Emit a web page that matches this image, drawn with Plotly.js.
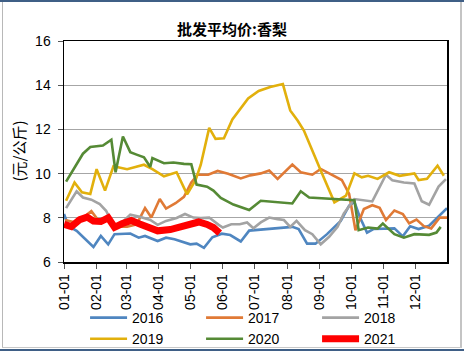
<!DOCTYPE html>
<html><head><meta charset="utf-8">
<script src="https://cdn.plot.ly/plotly-3.0.1.min.js"></script>
<style>
html,body{margin:0;padding:0;background:#fff;}
#wrap{position:relative;width:464px;height:351px;overflow:hidden;}
#chart{position:absolute;left:0;top:0;width:464px;height:351px;}
.deco{position:absolute;pointer-events:none;}
</style></head>
<body>
<div id="wrap">
<div id="chart"></div>
<div class="deco" style="left:0;top:0;width:464px;height:2px;background:#3f5f86;"></div>
<div class="deco" style="left:2px;top:2px;width:1px;height:346px;background:#b8b8b8;"></div>
<div class="deco" style="left:460px;top:2px;width:2px;height:346px;background:#c4c4c4;"></div>
<div class="deco" style="left:2px;top:347px;width:460px;height:1px;background:#c8c8c8;"></div>
<div class="deco" style="left:0;top:349px;width:464px;height:2px;background:#3f5f86;"></div>
</div>
<script>
const YEAR = '2021';
const seriesNames = ['2016','2017','2018','2019','2020','2021'];

const dates16 = ['01-01','01-05','01-13','01-21','01-29','02-05','02-12','02-18','02-25','03-05','03-13','03-19','03-31','04-08','04-16','04-24','05-01','05-07','05-14','05-22','05-31','06-08','06-18','06-26','08-06','08-12','08-20','08-28','09-08','09-21','09-29','10-04','10-09','10-16','10-22','11-11','11-19','11-26','12-04','12-14','12-31'];
const vals16 = [8.17,7.64,7.41,7.03,6.68,7.18,6.80,7.26,7.26,7.29,7.10,7.18,6.95,7.10,7.03,6.92,6.80,6.83,6.64,7.12,7.28,7.22,6.93,7.42,7.59,7.49,6.83,6.83,7.26,7.86,8.55,8.72,8.05,7.33,7.49,7.52,7.16,7.62,7.49,7.64,8.43];

const dates17 = ['01-02','01-11','01-19','01-27','02-04','02-13','02-21','03-02','03-11','03-19','03-25','04-02','04-08','04-17','04-25','05-02','05-08','05-18','05-27','06-06','06-18','06-27','07-07','07-15','07-23','08-06','08-14','08-25','09-02','09-11','09-22','09-29','10-05','10-13','10-21','10-28','11-03','11-11','11-19','11-25','12-02','12-09','12-16','12-24','12-31'];
const vals17 = [7.9,7.8,8.0,8.3,7.8,7.9,7.6,7.6,7.7,8.44,8.01,8.85,8.42,8.66,8.95,9.6,9.95,9.95,10.12,9.99,9.78,9.92,10.01,10.14,9.76,10.41,10.06,9.95,10.21,9.98,9.71,9.08,7.44,8.4,8.57,8.45,7.9,8.33,8.17,7.75,7.92,7.62,7.52,8.01,8.01];

const dates18 = ['01-03','01-13','01-19','01-27','02-04','02-10','02-18','02-25','03-05','03-14','03-24','03-31','04-08','04-18','04-26','05-04','05-11','05-19','05-28','06-01','06-09','06-17','06-24','06-30','07-07','07-15','07-23','07-29','08-04','08-10','08-18','08-25','09-02','09-10','09-18','09-24','10-04','10-21','11-03','11-09','11-20','11-30','12-07','12-14','12-23','12-30'];
const vals18 = [8.44,9.2,8.92,8.82,8.62,8.32,7.56,7.79,8.14,8.05,7.9,7.68,7.86,7.99,8.17,8.01,7.99,8.01,7.68,7.56,7.71,7.71,7.79,7.53,7.79,8.01,7.94,7.9,7.59,7.86,7.44,7.26,6.8,7.14,7.59,8.2,8.85,8.74,9.95,9.7,9.6,9.55,8.75,8.59,9.41,9.75];

const dates19 = ['01-03','01-11','01-18','01-26','02-01','02-09','02-17','03-02','03-18','03-26','04-06','04-18','04-28','05-06','05-11','05-19','05-25','06-02','06-10','06-18','06-25','07-05','07-16','07-28','08-04','08-11','08-17','09-02','09-15','09-26','10-04','10-11','10-17','10-26','11-06','11-16','11-30','12-04','12-12','12-22','12-28'];
const vals19 = [8.77,9.6,9.15,9.08,10.2,9.23,10.33,10.2,10.4,10.2,9.88,10.06,9.06,9.7,10.4,12.07,11.57,11.6,12.45,12.95,13.4,13.74,13.92,14.05,12.86,12.4,11.95,10.14,8.7,9.0,10.01,9.83,9.9,9.76,10.06,9.9,10.01,9.71,9.76,10.36,9.9];

const dates20 = ['01-03','01-19','01-26','02-04','02-07','02-15','02-19','02-26','03-05','03-11','03-18','03-24','03-26','04-06','04-15','04-25','05-02','05-07','05-17','05-23','05-30','06-11','06-26','07-07','08-06','08-14','08-22','10-04','10-08','10-17','10-26','10-31','11-11','11-20','11-30','12-14','12-21','12-25'];
const vals20 = [9.64,10.9,11.2,11.27,11.27,11.53,10.06,11.68,10.97,10.86,10.74,10.3,10.7,10.47,10.5,10.44,10.42,9.5,9.41,9.23,8.9,8.6,8.35,8.77,8.65,9.2,8.92,8.8,7.44,7.56,7.51,7.74,7.26,7.1,7.26,7.23,7.33,7.59];

const dates21 = ['01-01','01-08','01-16','01-23','01-29','02-05','02-12','02-18','02-25','03-06','03-14','03-21','03-31','04-12','04-26','05-09','05-17','05-23','05-29'];
const vals21 = [7.7,7.6,7.92,8.03,7.85,7.83,8.0,7.57,7.73,7.88,7.72,7.6,7.41,7.47,7.64,7.81,7.7,7.56,7.31];

const allDates = [dates16,dates17,dates18,dates19,dates20,dates21];
const allVals = [vals16,vals17,vals18,vals19,vals20,vals21];
const colors = ['#4f86c0','#e07a36','#a3a3a3','#e2b00c','#558a35','#ff0000'];
const widths = [2.6,2.6,2.6,2.6,2.6,7];

const traces = seriesNames.map((n,i)=>({
  type:'scatter', mode:'lines', name:n,
  x: allDates[i].map(d=>YEAR+'-'+d),
  y: allVals[i],
  line:{color:colors[i], width:widths[i]},
  hoverinfo:'skip'
}));

const FONT = 'Liberation Sans, Arial, sans-serif';
const layout = {
  width:464, height:351,
  margin:{l:64, r:17, t:41, b:89, autoexpand:false},
  paper_bgcolor:'rgba(0,0,0,0)', plot_bgcolor:'#fff',
  font:{family:FONT, size:14, color:'#000'},
  title:{text:'<b>批发平均价:香梨</b>', font:{family:'Noto Sans CJK SC', size:15, color:'#000'},
    x:0.5, xref:'container', xanchor:'center', y:1-30/351, yref:'container', yanchor:'middle'},
  xaxis:{type:'date', range:[YEAR+'-01-01', YEAR+'-12-31'], tick0:YEAR+'-01-01', dtick:'M1',
    tickformat:'%m-%d', tickangle:-90, ticks:'outside', ticklen:5, tickcolor:'#555',
    showgrid:false, showline:true, mirror:true, linecolor:'#000', linewidth:1.5, automargin:false,
    tickfont:{family:FONT, size:14}, zeroline:false, fixedrange:true},
  yaxis:{range:[6,16], dtick:2, tick0:6, ticks:'outside', ticklen:5, tickcolor:'#555',
    showgrid:true, gridcolor:'#a6a6a6', gridwidth:1, automargin:false,
    showline:true, mirror:true, linecolor:'#000', linewidth:1.5,
    tickfont:{family:FONT, size:14}, ticklabelstandoff:4, zeroline:false, fixedrange:true},
  showlegend:true,
  legend:{orientation:'h', x:0.055, xanchor:'left', yref:'container', y:1-302/351, yanchor:'top',
    entrywidth:64, entrywidthmode:'pixels', itemwidth:37, tracegroupgap:0,
    font:{family:FONT, size:14}, bgcolor:'rgba(0,0,0,0)', traceorder:'normal'},
  annotations:[{text:'(元/公斤)', xref:'paper', yref:'paper', x:(18-64)/383, y:0.5,
    xanchor:'center', yanchor:'middle', textangle:-90, showarrow:false,
    font:{family:'Noto Sans CJK SC', size:15, color:'#000'}}]
};

Plotly.newPlot('chart', traces, layout, {staticPlot:true, displayModeBar:false});
</script>
</body></html>
